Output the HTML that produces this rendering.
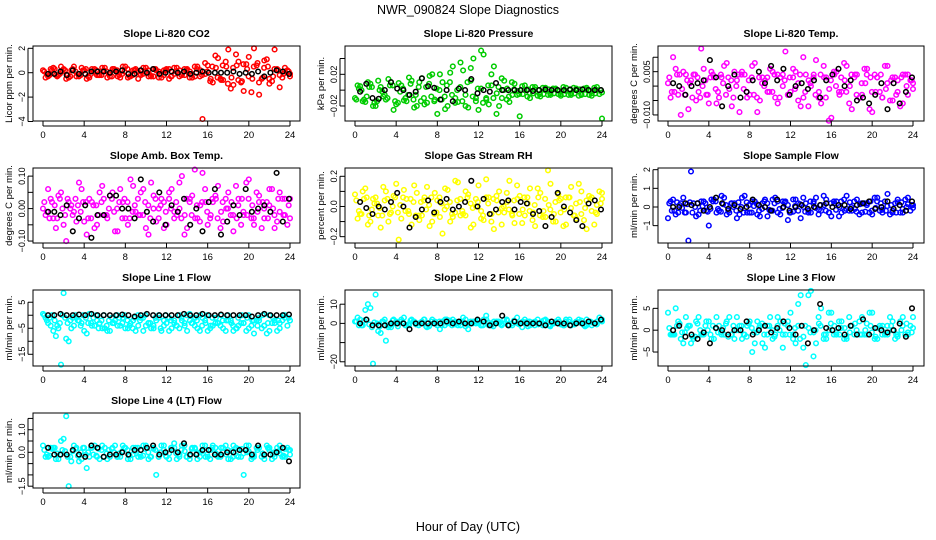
<!DOCTYPE html>
<html><head><meta charset="utf-8"><style>
body{margin:0;background:#fff}
svg{display:block;font-family:"Liberation Sans",sans-serif}
</style></head><body>
<svg id="c" width="936" height="540" viewBox="0 0 936 540">
<text x="468" y="14" text-anchor="middle" font-size="12.5">NWR_090824  Slope Diagnostics</text>
<text x="468" y="531" text-anchor="middle" font-size="12.5">Hour of Day (UTC)</text>
</svg>
<script>
const co2A=[0.2,-0.3,0.4,-0.2,0.3,-0.4,0.5,-0.3,0.2,-0.4,0.3,-0.2,0.4,-0.3,0.2,-0.4,0.5,-0.3,0.3,-0.2,0.4,-0.3,0.2,-0.4,0.3,-0.3,0.4,-0.2,0.3,-0.4,0.5,-3.8,0.6,-0.8,1.2,-0.6,1.9,-1.0,0.9,-1.5,1.3,2.0,-1.8,1.0,-0.9,1.9,-1.2,0.4,-0.3];
const co2B=[-0.4,0.3,-0.2,0.5,-0.5,0.2,-0.3,0.4,-0.5,0.3,-0.2,0.4,-0.4,0.3,-0.3,0.5,-0.4,0.2,-0.5,0.4,-0.3,0.3,-0.4,0.2,-0.5,0.4,-0.3,0.3,-0.4,0.5,-0.3,0.8,-0.7,1.4,-0.5,0.9,-1.3,1.5,-0.8,0.7,-1.6,0.6,-0.5,1.1,-0.7,0.3,-0.4,0.2];
const co2C=[0.1,-0.2,0.3,-0.1,0.2,-0.3,0.1,-0.2,0.3,-0.1,0.2,-0.2,0.1,-0.3,0.2,-0.1,0.3,-0.2,0.1,-0.1,0.2,-0.3,0.1,-0.2,0.3,-0.1,0.2,-0.2,0.1,-0.3,0.2,-0.1,-0.5,0.4,-0.6,0.5,-0.4,0.6,-0.7,0.3,-0.5,0.8,-0.4,0.5,-0.3,0.2,-0.1,0.1];
const co2D=[-0.1,0.2,-0.3,0.1,-0.2,0.3,-0.1,0.2,-0.3,0.1,-0.2,0.2,-0.1,0.3,-0.2,0.1,-0.3,0.2,-0.1,0.1,-0.2,0.3,-0.1,0.2,-0.3,0.1,-0.2,0.2,-0.1,0.3,-0.2,0.1,0.5,-0.4,0.6,-0.9,0.4,-0.6,0.7,-0.3,0.5,-0.8,0.4,-0.5,0.3,-0.2,0.1,-0.1];
const co2K=[-0.1,-0.1,0.1,-0.2,0.2,-0.1,-0.1,0.1,0.1,0.1,0.0,0.1,0.2,-0.1,-0.1,0.2,0.0,0.3,-0.1,0.0,0.1,0.0,0.1,-0.1,0.0,0.1,0.0,0.0,0.0,0.0,0.1,-0.1,0.0,-0.1,0.1,-0.3,0.0,0.2,0.1,-0.1];
const presA=[-0.01,0.005,-0.015,0.008,-0.02,0.004,-0.012,0.01,-0.018,0.006,-0.014,0.012,-0.02,0.015,-0.016,0.02,-0.03,0.01,-0.02,0.03,-0.015,0.025,-0.022,0.04,-0.025,0.045,-0.018,0.03,-0.02,0.012,-0.015,0.008,-0.033,0.006,-0.01,0.004,-0.008,0.003,-0.006,0.002,-0.007,0.003,-0.006,0.002,-0.006,0.003,-0.007,0.004,-0.036];
const presB=[0.006,-0.014,0.01,-0.02,0.012,-0.008,0.014,-0.025,0.009,-0.013,0.016,-0.022,0.01,-0.018,0.018,-0.012,0.02,-0.024,0.022,-0.01,0.035,-0.02,0.028,-0.014,0.05,-0.01,0.02,-0.03,0.015,-0.012,0.01,-0.006,0.005,-0.008,0.004,-0.007,0.003,-0.006,0.002,-0.005,0.004,-0.006,0.003,-0.007,0.002,-0.006,0.003,-0.005];
const presC=[-0.012,0.0,-0.008,0.004,-0.014,-0.002,-0.01,0.006,-0.016,0.002,-0.006,-0.012,0.004,-0.01,0.008,-0.014,0.0,-0.008,0.01,-0.016,0.004,-0.006,0.012,-0.01,0.002,-0.012,0.006,-0.004,-0.01,0.002,-0.006,-0.001,-0.005,0.001,-0.004,0.0,-0.005,0.001,-0.004,-0.001,-0.005,0.0,-0.004,0.001,-0.005,-0.001,-0.004,0.0];
const presD=[0.002,-0.012,0.004,-0.016,0.0,-0.006,0.006,-0.014,-0.002,-0.01,0.008,-0.006,-0.014,0.004,-0.008,0.002,-0.012,0.006,-0.006,0.0,-0.014,0.01,-0.008,0.002,-0.016,0.006,-0.01,0.004,0.0,-0.008,0.001,-0.005,0.0,-0.004,0.001,-0.005,0.0,-0.004,0.001,-0.005,-0.001,-0.004,0.0,-0.005,0.001,-0.004,0.0,-0.003];
const presK=[-0.002,0.008,-0.01,-0.011,0.0,0.01,0.002,0.0,-0.006,-0.002,0.015,0.005,0.003,-0.012,0.0,-0.014,0.002,0.0,0.014,-0.004,0.0,-0.002,0.009,0.0,0.0,0.0,0.0,0.0,-0.001,0.0,0.001,0.0,0.0,0.0,0.001,0.0,0.001,0.0,0.0,0.0];
const tempA=[0.001,0.01,-0.003,0.005,-0.008,0.004,-0.002,0.006,-0.006,0.003,-0.004,0.007,-0.001,0.005,-0.009,0.004,-0.003,0.008,-0.005,0.002,0.006,-0.004,0.003,0.012,-0.002,0.005,-0.007,0.004,0.0,0.009,-0.006,0.003,-0.011,0.005,-0.002,0.007,-0.008,0.004,-0.003,0.006,-0.009,0.003,-0.004,0.007,-0.005,0.002,-0.006,0.004,-0.001];
const tempB=[-0.004,0.006,-0.01,0.004,0.002,-0.005,0.013,-0.003,0.005,-0.006,0.003,0.008,-0.007,0.002,0.005,-0.004,0.007,-0.009,0.003,-0.002,0.005,-0.006,0.004,-0.003,0.006,-0.005,0.01,-0.007,0.003,-0.004,0.007,-0.012,0.005,-0.002,0.008,-0.006,0.003,-0.004,0.006,-0.008,0.004,-0.002,0.007,-0.005,0.003,-0.007,0.004,0.002];
const tempC=[0.003,-0.002,0.004,-0.003,0.001,0.004,-0.004,0.002,0.003,-0.001,0.004,-0.003,0.002,0.0,0.004,-0.002,0.003,-0.004,0.001,0.003,-0.002,0.004,0.0,-0.003,0.003,0.001,-0.004,0.002,0.004,-0.002,0.003,-0.001,0.004,-0.003,0.002,0.0,0.004,-0.004,0.001,0.003,-0.002,0.004,-0.001,0.002,-0.003,0.003,0.0,0.002];
const tempD=[-0.002,0.004,-0.001,0.002,-0.004,0.003,0.0,-0.003,0.004,-0.002,0.001,0.003,-0.004,0.004,-0.001,0.002,-0.003,0.003,0.0,-0.002,0.004,-0.004,0.002,0.003,-0.001,0.004,-0.002,0.001,-0.003,0.004,-0.004,0.002,0.0,0.003,-0.002,0.004,-0.003,0.001,0.004,-0.002,0.003,-0.004,0.001,0.003,-0.002,0.004,-0.003,0.001];
const tempK=[0.001,0.0,-0.003,0.0,0.001,0.002,0.009,0.003,-0.007,0.0,0.004,-0.004,-0.002,0.002,0.005,0.001,0.007,0.002,0.006,-0.003,0.0,0.001,-0.001,0.002,-0.004,0.002,0.004,0.006,0.0,0.002,-0.005,-0.004,-0.006,-0.003,0.001,-0.008,0.001,-0.006,-0.002,0.003];
const ambA=[0.0,0.06,-0.03,0.04,-0.05,0.02,-0.01,0.08,-0.04,0.03,-0.06,0.05,-0.02,0.04,-0.07,0.06,-0.03,0.09,-0.01,0.05,-0.06,0.08,-0.04,0.03,-0.05,0.06,-0.02,0.1,-0.06,0.04,-0.03,0.11,-0.05,0.02,0.07,-0.04,0.05,-0.07,0.03,-0.02,0.09,-0.05,0.04,-0.03,0.06,-0.06,0.05,-0.02,0.03];
const ambB=[-0.02,0.03,-0.06,0.05,-0.1,0.01,-0.04,0.06,-0.08,0.02,-0.05,0.07,-0.03,0.05,-0.07,0.02,-0.05,0.07,-0.02,0.06,-0.08,0.04,0.0,-0.06,0.05,-0.03,0.08,-0.08,0.02,0.12,-0.04,0.06,-0.03,0.04,-0.06,0.03,-0.02,0.07,-0.05,0.08,-0.03,0.05,-0.06,0.02,0.06,-0.04,0.03,-0.05];
const ambC=[0.02,-0.03,0.01,0.03,-0.02,0.0,0.03,-0.01,0.02,-0.03,0.01,0.02,-0.02,0.03,0.0,-0.03,0.02,-0.01,0.03,-0.02,0.01,0.0,-0.03,0.02,0.03,-0.01,0.0,-0.02,0.03,-0.03,0.01,0.02,-0.02,0.03,-0.01,0.0,0.02,-0.03,0.03,-0.02,0.01,-0.01,0.02,-0.03,0.0,0.03,-0.02,0.01];
const ambD=[-0.01,0.02,-0.03,0.0,0.03,-0.02,0.01,0.02,-0.03,0.01,-0.02,0.03,0.0,-0.01,0.02,0.03,-0.03,0.01,-0.02,0.02,-0.03,0.03,0.01,-0.01,0.0,0.02,-0.03,0.03,-0.02,0.01,0.02,-0.01,0.03,-0.03,0.02,0.0,-0.02,0.01,-0.01,0.03,-0.03,0.02,0.0,0.01,-0.02,-0.01,0.03,-0.03];
const ambK=[-0.01,-0.01,-0.02,0.01,-0.07,-0.03,0.01,-0.09,-0.02,-0.02,0.04,0.04,0.0,0.0,-0.03,0.09,-0.01,-0.04,0.05,-0.05,0.01,-0.01,0.03,-0.05,0.0,-0.07,0.02,0.06,-0.08,-0.04,0.01,-0.02,0.06,-0.01,0.0,0.01,-0.01,0.11,-0.04,0.03];
const rhA=[0.08,-0.05,0.12,-0.1,0.06,-0.14,0.1,-0.04,0.15,-0.08,0.05,-0.12,0.09,-0.06,0.13,-0.1,0.04,-0.18,0.11,-0.07,0.16,-0.05,0.08,-0.12,0.14,-0.09,0.06,-0.15,0.1,-0.04,0.17,-0.11,0.07,-0.06,0.12,-0.13,0.09,-0.07,0.15,-0.1,0.05,-0.12,0.13,-0.08,0.1,-0.15,0.06,-0.05,0.09];
const rhB=[-0.08,0.1,-0.12,0.05,-0.06,0.13,-0.1,0.07,-0.22,0.11,-0.05,0.14,-0.09,0.06,-0.13,0.09,-0.07,0.12,-0.1,0.17,-0.06,0.1,-0.14,0.05,-0.08,0.18,-0.1,0.07,-0.12,0.09,-0.05,0.14,-0.11,0.06,-0.09,0.12,-0.07,0.24,-0.1,0.08,-0.13,0.06,-0.06,0.15,-0.09,0.07,-0.12,0.1];
const rhC=[0.04,-0.05,0.06,-0.02,0.02,-0.06,0.05,0.0,-0.04,0.06,-0.03,0.03,-0.06,0.04,0.01,-0.05,0.06,-0.02,0.03,-0.04,0.05,-0.06,0.02,0.0,-0.03,0.06,-0.05,0.04,-0.01,0.03,-0.06,0.05,-0.02,0.02,-0.04,0.06,-0.03,0.01,-0.05,0.04,-0.02,0.06,-0.06,0.03,-0.01,0.05,-0.04,0.02];
const rhD=[-0.03,0.05,-0.06,0.02,-0.01,0.04,-0.05,0.06,0.01,-0.03,0.05,-0.06,0.03,-0.02,0.06,-0.04,0.02,0.0,-0.05,0.04,-0.03,0.06,-0.01,0.03,-0.06,0.02,0.05,-0.04,0.0,-0.02,0.04,-0.05,0.06,-0.03,0.01,-0.06,0.05,-0.02,0.03,-0.04,0.06,-0.01,0.02,-0.05,0.04,-0.03,0.01,0.05];
const rhK=[0.03,-0.01,-0.05,0.0,-0.02,0.03,0.09,0.0,-0.14,-0.07,-0.02,0.04,-0.04,0.03,0.05,-0.02,0.0,0.03,0.17,0.0,0.05,-0.05,-0.02,0.03,0.04,-0.02,0.03,0.02,-0.05,-0.03,-0.13,-0.07,0.09,0.0,-0.04,-0.09,-0.13,0.02,0.04,-0.02];
const sfA=[-0.6,0.4,-0.3,0.5,-1.8,0.2,-0.4,0.3,-1.0,0.4,-0.2,0.5,-0.3,0.2,-0.4,0.6,-0.3,0.3,-0.5,0.4,-0.2,0.5,-0.4,0.3,-0.3,0.4,-0.6,0.2,-0.3,0.5,-0.2,0.4,-0.5,0.3,-0.3,0.6,-0.2,0.4,-0.3,0.2,-0.4,0.5,-0.3,0.7,-0.2,0.4,-0.3,0.5,0.1];
const sfB=[0.3,-0.4,0.2,-0.3,1.9,-0.5,0.3,-0.2,0.4,-0.3,0.6,-0.4,0.2,-0.6,0.5,-0.3,0.3,-0.4,0.2,-0.5,0.4,-0.3,0.3,-0.7,0.4,-0.2,0.5,-0.3,0.2,-0.4,0.6,-0.3,0.3,-0.5,0.4,-0.2,0.3,-0.4,0.2,-0.3,0.5,-0.2,0.3,-0.4,0.2,-0.3,0.4,-0.2];
const sfC=[0.2,-0.2,0.1,-0.3,0.25,0.0,-0.2,0.2,-0.1,0.3,-0.25,0.1,0.2,-0.2,0.0,0.25,-0.3,0.15,-0.1,0.2,-0.2,0.3,-0.05,0.1,-0.25,0.2,0.0,-0.2,0.3,-0.15,0.1,-0.3,0.2,0.0,-0.2,0.25,-0.1,0.15,-0.25,0.3,-0.05,0.2,-0.2,0.1,-0.3,0.25,0.0,0.1];
const sfD=[-0.2,0.25,-0.05,0.15,-0.3,0.2,0.05,-0.25,0.3,-0.1,0.15,-0.2,0.0,0.25,-0.3,0.1,0.05,-0.2,0.3,-0.15,0.2,-0.1,0.25,-0.3,0.05,0.15,-0.25,0.3,-0.05,0.1,-0.2,0.2,-0.15,0.3,-0.1,0.0,-0.25,0.2,0.1,-0.2,0.3,-0.15,0.05,-0.3,0.25,-0.1,0.15,-0.05];
const sfK=[0.0,0.0,0.2,0.1,0.2,-0.2,0.0,0.5,0.2,-0.1,0.1,-0.1,0.0,0.4,0.1,0.0,-0.2,0.4,0.0,-0.2,0.0,0.1,-0.1,0.0,0.1,0.2,0.0,0.1,0.1,-0.1,0.1,0.2,0.3,-0.1,0.0,0.3,-0.1,0.1,-0.2,0.3];
const l1A=[0.5,-3,-6,-5,8.5,-10,-4,-2,-6,0.5,-4,-3,-5,-6,-2,-4,-5,-3,-6,-1,-4,-5,-2,-6,-3,-5,-4,-2,-6,-3,-5,-1,-6,-4,-3,-5,-2,-6,-4,-3,-5,-7,-2,-4,-6,-3,-5,-1,-2];
const l1B=[-1,-4,-8,-19,-9,-5,-1,-3,-7,-4,-2,-5,-6,-3,-4,-1,-5,-2,-4,-6,-3,-5,-1,-4,-6,-2,-5,-3,0.5,-4,-6,-2,-5,-3,-4,-6,-2,-5,-3,-6,-4,-2,-5,-7,-3,-6,-2,-4];
const l1C=[0,-1,-2,-3,-1,-2,0,-4,-1,-3,0,-2,-4,-1,0,-3,-2,-5,0,-1,-3,-4,0,-2,-1,-3,0,-4,-2,-1,0,-3,-4,-1,0,-2,-3,-5,0,-1,-2,-4,0,-3,-1,-2,0,-1];
const l1D=[-2,0,-4,0,-3,-1,-2,0,-3,-1,-5,0,-2,-3,-1,0,-4,-1,-2,0,-3,-1,-5,0,-2,-4,-1,0,-3,-2,-4,0,-1,-3,-2,0,-4,-1,-3,0,-2,-1,-4,0,-2,-3,0,-2];
const l1K=[0,0,0.5,0,0,0.3,0,0.5,0,0,0,0,0.3,0,-0.5,0,0.5,0,0,0,0,0,0.5,0,0,0.5,0,0,0.3,0,0,0,0,-0.5,0,0.5,0,0,0,0.3];
const l2A=[1,2,7,8,15,-5,-9,-2,1,2,-1,2,0,1,-2,2,-1,1,0,2,-1,3,-3,1,0,2,-1,1,0,2,-1,1,0,2,-1,1,0,2,-1,1,0,2,-1,1,0,2,-1,1,2];
const l2B=[3,-1,10,-21,-4,1,-2,2,0,3,-1,1,0,2,-1,1,-3,2,0,1,-1,2,0,1,-1,4,0,1,-1,2,0,3,-2,1,0,2,-1,1,0,2,-1,1,0,2,-1,1,0,3];
const l2C=[1,-1,2,-2,0,1,-1,1.5,-1.5,0.5,-0.5,1,-1,2,-1.5,0,1,-1,1.5,-0.5,0.5,-1.5,1,0,-1,2,-1,0.5,-0.5,1.5,-1,0,1,-1.5,0.5,-0.5,1.5,-1,0,1,-1,2,-0.5,0.5,-1.5,1,0,1.5];
const l2D=[-1,1.5,-0.5,0.5,-1.5,2,-1,0,1,-1,1.5,-0.5,0.5,-1.5,1,0,-1,2,-1,0.5,1,-0.5,0,1.5,-1,0.5,-1.5,1,0,-1,1.5,-0.5,0.5,1,-1,0,1.5,-1.5,0.5,-0.5,1,-1,0,1.5,-1,0.5,-0.5,1];
const l2K=[0,2,-1,-1,-1,0,0,0,-3,0,0,0,0,0,1,0,1,0,0,2,1,-1,0,4,-1,1,0,0,0,0,-1,1,0,0,-1,0,0,1,0,2];
const l3A=[4,-1,2,-3,1,-2,3,-1,2,-2,1,-1,3,-2,1,-1,2,-3,1,-4,3,-1,2,-1,4,-3,8,-8,9,-3,5,-2,4,-1,2,-2,1,-1,3,-1,4,-2,1,-1,2,-1,3,-1,3];
const l3B=[-1,5,-2,3,-3,2,-1,2,-2,3,-1,2,-1,3,-2,1,-5,2,-3,1,-2,3,-4,1,-1,6,-4,8,-6,3,-2,4,-1,2,-2,3,-1,2,-1,4,-2,1,-1,3,-2,2,-1,1];
const l3C=[0.5,-1,1.5,-0.5,1,-1.5,0,1,-1,0.5,-0.5,1.5,-1,0,1,-1.5,0.5,-0.5,1.5,-1,0,1,-1,2,-2,1,-1.5,0.5,-0.5,1.5,-1,0,1,-1,0.5,-0.5,1.5,-1,0,1,-1.5,0.5,-0.5,1,-1,0,1.5,-0.5];
const l3D=[-1,1,-0.5,0.5,-1.5,1.5,-1,0,1,-0.5,0.5,-1.5,1,0,-1,1.5,-0.5,0.5,-1,1,-1.5,0,1.5,-1,0.5,-2,1,-0.5,0,1,-1,1.5,-0.5,0.5,-1.5,1,0,-1,1.5,-0.5,0.5,-1,1,0,-1.5,1,-0.5,0.5];
const l3K=[0,1,-1.5,-1,-2,-0.5,-3,0.5,0,-1,0,0,2,-1,0,1,-0.5,0.5,2,0.5,-1,1,-3,0,6,0.5,0,0.5,-1,1,-1,2.5,-1,0.5,0,-0.5,0,1.5,-1.5,5];
const l4A=[0.3,-0.2,0.2,-0.3,0.6,-1.5,0.3,-0.4,0.2,-0.2,0.3,-0.3,0.2,-0.2,0.3,-0.2,0.2,-0.3,0.2,-0.2,0.3,-0.2,-1.0,0.3,-0.2,0.2,-0.3,0.3,-0.2,0.2,-0.3,0.3,-0.2,0.3,-0.2,0.2,-0.3,0.3,-0.2,-1.0,0.3,-0.2,0.2,-0.3,0.2,-0.2,0.3,-0.2,0.1];
const l4B=[-0.2,0.2,-0.3,0.5,1.6,-0.4,0.2,-0.3,-0.7,0.2,-0.2,0.3,-0.3,0.2,-0.2,0.3,-0.3,0.2,-0.2,0.3,-0.3,0.2,-0.2,0.3,-0.3,0.4,-0.2,0.3,-0.3,0.2,-0.2,0.3,-0.3,0.2,-0.2,0.3,-0.3,0.2,-0.2,0.3,-0.3,0.2,-0.2,0.3,-0.3,0.2,-0.2,0.2];
const l4C=[0.1,-0.15,0.2,-0.1,0.05,-0.2,0.15,0.0,-0.1,0.2,-0.15,0.1,-0.05,0.15,-0.2,0.05,0.1,-0.1,0.2,-0.15,0.0,0.15,-0.2,0.1,-0.05,0.2,-0.1,0.05,-0.15,0.15,0.0,-0.2,0.1,-0.05,0.2,-0.1,0.05,-0.15,0.15,0.0,-0.2,0.1,-0.05,0.2,-0.1,0.05,-0.15,0.1];
const l4D=[-0.1,0.15,-0.05,0.1,-0.2,0.05,-0.15,0.2,0.0,-0.1,0.15,-0.2,0.1,0.0,-0.05,0.2,-0.15,0.05,-0.1,0.15,-0.2,0.1,0.0,-0.15,0.2,-0.05,0.1,-0.2,0.15,-0.05,0.05,-0.1,0.2,-0.15,0.0,0.1,-0.2,0.15,-0.05,0.05,-0.1,0.2,-0.15,0.1,0.0,-0.05,0.15,-0.1];
const l4K=[0.2,-0.1,-0.1,-0.1,0.1,-0.1,-0.2,0.3,0.2,-0.2,-0.1,-0.1,0.0,-0.1,0.1,0.1,0.2,0.3,-0.1,0.0,0.1,0.0,0.4,-0.1,-0.1,0.1,0.1,-0.1,-0.1,0.0,0.0,0.1,0.1,-0.1,0.3,-0.1,-0.1,0.0,0.2,-0.4];
const xTicks=[0,4,8,12,16,20,24];
const panels=[
 {n:'co2',t:'Slope Li-820 CO2',yl:'Licor ppm per min.',c:'#ff0000',S:[co2A,co2B,co2C,co2D],K:co2K,lim:[-3.96,2.19],ticks:[2,0,-2,-4],labs:['2','0','\u22122','\u22124']},
 {n:'pressure',t:'Slope Li-820 Pressure',yl:'kPa per min.',c:'#00cc00',S:[presA,presB,presC,presD],K:presK,lim:[-0.039,0.0558],ticks:[0.04,0.02,0,-0.02],labs:['','0.02','','\u22120.02']},
 {n:'temp',t:'Slope Li-820 Temp.',yl:'degrees C per min.',c:'#ff00ff',S:[tempA,tempB,tempC,tempD],K:tempK,lim:[-0.0121,0.0139],ticks:[0.01,0.005,0,-0.005,-0.01],labs:['','0.005','','','\u22120.010']},
 {n:'amb-box-temp',t:'Slope Amb. Box Temp.',yl:'degrees C per min.',c:'#ff00ff',S:[ambA,ambB,ambC,ambD],K:ambK,lim:[-0.106,0.125],ticks:[0.1,0.05,0,-0.05,-0.1],labs:['0.10','','0.00','','\u22120.10']},
 {n:'gas-stream-rh',t:'Slope Gas Stream RH',yl:'percent per min.',c:'#ffff00',S:[rhA,rhB,rhC,rhD],K:rhK,lim:[-0.242,0.255],ticks:[0.2,0.1,0,-0.1,-0.2],labs:['0.2','','0.0','','\u22120.2']},
 {n:'sample-flow',t:'Slope Sample Flow',yl:'ml/min per min.',c:'#0000ff',S:[sfA,sfB,sfC,sfD],K:sfK,lim:[-1.93,2.09],ticks:[2,1,0,-1],labs:['2','1','0','\u22121']},
 {n:'line1-flow',t:'Slope Line 1 Flow',yl:'ml/min per min.',c:'#00ffff',S:[l1A,l1B,l1C,l1D],K:l1K,lim:[-19.5,9.7],ticks:[5,0,-5,-10,-15],labs:['5','','\u22125','','\u221215']},
 {n:'line2-flow',t:'Slope Line 2 Flow',yl:'ml/min per min.',c:'#00ffff',S:[l2A,l2B,l2C,l2D],K:l2K,lim:[-22.2,17.4],ticks:[10,0,-10,-20],labs:['10','0','','\u221220']},
 {n:'line3-flow',t:'Slope Line 3 Flow',yl:'ml/min per min.',c:'#00ffff',S:[l3A,l3B,l3C,l3D],K:l3K,lim:[-8.2,9.2],ticks:[5,0,-5],labs:['5','0','\u22125']},
 {n:'line4-flow',t:'Slope Line 4 (LT) Flow',yl:'ml/min per min.',c:'#00ffff',S:[l4A,l4B,l4C,l4D],K:l4K,lim:[-1.58,1.74],ticks:[1.5,1,0.5,0,-0.5,-1,-1.5],labs:['','1.0','','0.0','','','\u22121.5']}
];
const offsets=[[0,24],[0.25,23.75],[0.125,23.875],[0.375,24]];
const cols=[{bl:33,br:300,x0:43,x24:290},{bl:345,br:612,x0:355,x24:602},{bl:658,br:924,x0:668,x24:913}];
const rows=[{t:46,b:121},{t:168,b:243},{t:290,b:366},{t:413,b:488}];
const svg=document.getElementById('c');
const NS='http://www.w3.org/2000/svg';
function mk(tag,at,parent){const e=document.createElementNS(NS,tag);for(const k in at)e.setAttribute(k,at[k]);(parent||svg).appendChild(e);return e;}
panels.forEach((p,i)=>{
 const col=cols[i%3],row=rows[Math.floor(i/3)];
 const g=mk('g',{});
 
 
 const xs=h=>col.x0+(col.x24-col.x0)*h/24;
 const ys=v=>row.b-(v-p.lim[0])/(p.lim[1]-p.lim[0])*(row.b-row.t);
 const tt=mk('text',{x:(col.bl+col.br)/2,y:row.t-9,'text-anchor':'middle','font-size':10.5,'font-weight':'bold'},g);
 tt.textContent=p.t;
 
 
 const yl=mk('text',{transform:`translate(${col.bl-21},${(row.t+row.b)/2}) rotate(-90)`,'text-anchor':'middle','font-size':9.5},g);
 yl.textContent=p.yl;
 
 
 const pts=mk('g',{fill:'none','stroke-width':1.5},g);
 
 
 const draw=(arr,h0,h1,color,name)=>{arr.forEach((v,k)=>{const h=h0+(h1-h0)*k/(arr.length-1);
   const c=mk('circle',{cx:xs(h).toFixed(1),cy:ys(v).toFixed(1),r:2.3,stroke:color},pts);
   
   });};
 p.S.forEach((arr,s)=>draw(arr,offsets[s][0],offsets[s][1],p.c,'point'));
 draw(p.K,0.5,23.9,'#000','point-reference');
 const box=mk('rect',{x:col.bl,y:row.t,width:col.br-col.bl,height:row.b-row.t,fill:'none',stroke:'#000','stroke-width':1},g);
 
 
 xTicks.forEach(t=>{const x=xs(t);
  mk('line',{x1:x,x2:x,y1:row.b,y2:row.b+5,stroke:'#000'},g);
  const l=mk('text',{x:x,y:row.b+17,'text-anchor':'middle','font-size':9.5},g);l.textContent=t;
  
  });
 mk('line',{x1:xs(0),x2:xs(24),y1:row.b+5,y2:row.b+5,stroke:'#000'},g);
 p.ticks.forEach((t,k)=>{const y=ys(t);
  mk('line',{x1:col.bl-5,x2:col.bl,y1:y,y2:y,stroke:'#000'},g);
  if(p.labs[k]){const l=mk('text',{transform:`translate(${col.bl-8},${y}) rotate(-90)`,'text-anchor':'middle','font-size':9},g);l.textContent=p.labs[k];
  
  }});
 mk('line',{x1:col.bl-5,x2:col.bl-5,y1:ys(p.ticks[0]),y2:ys(p.ticks[p.ticks.length-1]),stroke:'#000'},g);
});
</script>
</body></html>
